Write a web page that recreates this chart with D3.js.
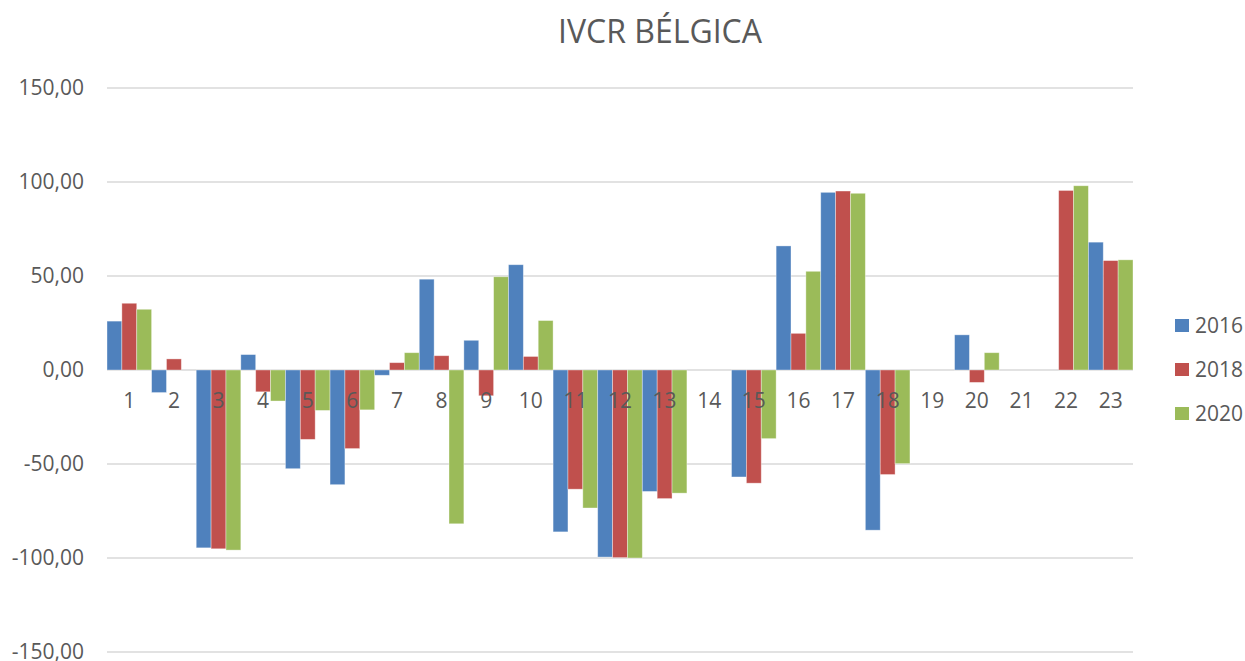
<!DOCTYPE html>
<html>
<head>
<meta charset="utf-8">
<script src="https://cdn.jsdelivr.net/npm/d3@7"></script>
<style>
  body { margin: 0; background: #fff; }
  text { font-family: "Open Sans", "Noto Sans", sans-serif; fill: #595959; }
</style>
</head>
<body>
<div id="chart"></div>
<script>
var categories = ["1","2","3","4","5","6","7","8","9","10","11","12","13","14","15","16","17","18","19","20","21","22","23"];
var years = ["2016", "2018", "2020"];
var values2016 = [26, -12, -94.6, 8.2, -52.5, -61, -2.8, 48.3, 15.8, 56, -86.1, -99.5, -64.6, 0, -56.9, 66, 94.5, -85.2, 0, 18.7, 0, 0, 68];
var values2018 = [35.5, 5.9, -95.1, -11.6, -36.9, -41.8, 3.9, 7.6, -13.7, 7.2, -63.4, -99.8, -68.4, 0, -60.2, 19.5, 95.2, -55.6, 0, -6.6, 0, 95.5, 58.2];
var values2020 = [32.3, 0, -95.8, -16.5, -21.5, -21.2, 9.2, -81.8, 49.6, 26.3, -73.4, -100, -65.5, 0, -36.5, 52.5, 94, -49.8, 0, 9.2, 0, 98, 58.6];
var yTicks = [-150, -100, -50, 0, 50, 100, 150];
var colors = ["#4F81BD", "#C0504D", "#9BBB59"];

var seriesValues = [values2016, values2018, values2020];

var W = 1245, H = 661;
var margin = {top: 88, right: 112, bottom: 9, left: 107};
var width = W - margin.left - margin.right,
    height = H - margin.top - margin.bottom;

var svg = d3.select("#chart").append("svg")
    .attr("width", W)
    .attr("height", H);

var g = svg.append("g")
    .attr("transform", "translate(" + margin.left + "," + margin.top + ")");

var x0 = d3.scaleBand().domain(categories).range([0, width]).padding(0);
var x1 = d3.scaleBand().domain(years).range([0, x0.bandwidth()]).padding(0);
var y = d3.scaleLinear().domain([-150, 150]).range([height, 0]);

// gridlines
g.selectAll(".grid")
  .data(yTicks)
  .enter().append("line")
  .attr("x1", 0).attr("x2", width)
  .attr("y1", function(d){ return y(d); })
  .attr("y2", function(d){ return y(d); })
  .attr("stroke", "#D9D9D9")
  .attr("stroke-width", 1.3);

// y labels (comma decimal, plain hyphen minus)
g.selectAll(".ylab")
  .data(yTicks)
  .enter().append("text")
  .attr("x", -23)
  .attr("y", function(d){ return y(d); })
  .attr("dy", "0.34em")
  .attr("text-anchor", "end")
  .style("font-size", "21px")
  .text(function(d){ return d.toFixed(2).replace(".", ","); });

// bars
var rows = [];
categories.forEach(function(c, i){
  years.forEach(function(yr, j){
    rows.push({cat: c, year: yr, value: seriesValues[j][i], color: colors[j]});
  });
});

g.selectAll(".bar")
  .data(rows.filter(function(d){ return d.value !== 0; }))
  .enter().append("rect")
  .attr("class", "bar")
  .attr("x", function(d){ return x0(d.cat) + x1(d.year); })
  .attr("width", x1.bandwidth())
  .attr("y", function(d){ return y(Math.max(0, d.value)); })
  .attr("height", function(d){ return Math.abs(y(d.value) - y(0)); })
  .attr("fill", function(d){ return d.color; })
  .attr("stroke", "rgba(255,255,255,0.45)")
  .attr("stroke-width", 0.8);

// category labels (drawn over bars)
g.selectAll(".xlab")
  .data(categories)
  .enter().append("text")
  .attr("x", function(d){ return x0(d) + x0.bandwidth() / 2; })
  .attr("y", y(0) + 38)
  .attr("text-anchor", "middle")
  .style("font-size", "21px")
  .text(function(d){ return d; });

// title
svg.append("text")
  .attr("x", 660)
  .attr("y", 43)
  .attr("text-anchor", "middle")
  .style("font-size", "32px")
  .text("IVCR BÉLGICA");

// legend
var legend = svg.selectAll(".legend")
  .data(years)
  .enter().append("g")
  .attr("transform", function(d, i){ return "translate(1175," + (319 + i * 44) + ")"; });

legend.append("rect")
  .attr("width", 14).attr("height", 13)
  .attr("fill", function(d, i){ return colors[i]; });

legend.append("text")
  .attr("x", 20)
  .attr("y", 7)
  .attr("dy", "0.34em")
  .style("font-size", "21px")
  .text(function(d){ return d; });
</script>
</body>
</html>
